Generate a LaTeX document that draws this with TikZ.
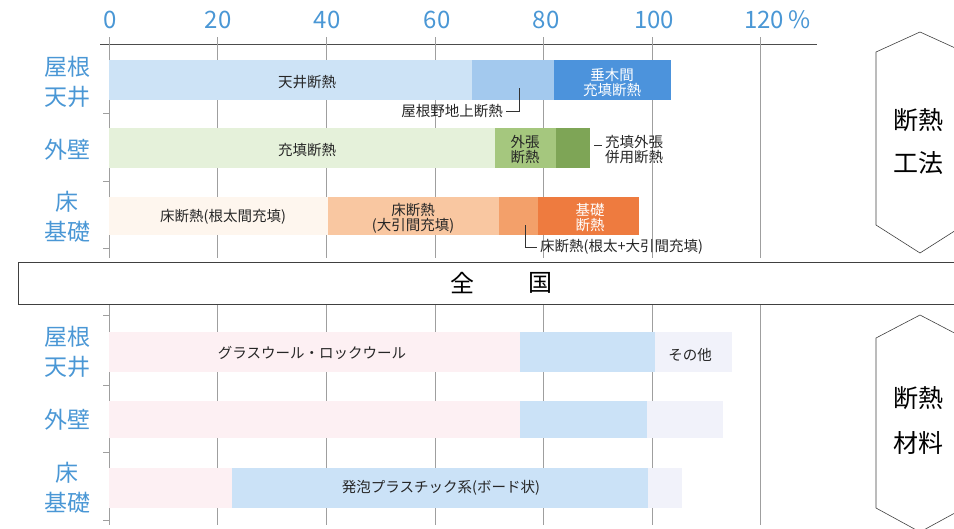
\documentclass[tikz,border=0pt]{standalone}
\usepackage{fontspec}
\setmainfont{Noto Sans CJK JP}
\usetikzlibrary{positioning}

\definecolor{labelblue}{HTML}{4A97D5}
\definecolor{tenjo}{HTML}{CDE3F6}
\definecolor{noji}{HTML}{A3C9EE}
\definecolor{taruki}{HTML}{4C93DC}
\definecolor{juten}{HTML}{E5F1DA}
\definecolor{sotobari}{HTML}{A5C77E}
\definecolor{heiyo}{HTML}{7EA556}
\definecolor{neda}{HTML}{FEF6EE}
\definecolor{obiki}{HTML}{F9C7A1}
\definecolor{yukamix}{HTML}{F3A06A}
\definecolor{kiso}{HTML}{EE7B3F}
\definecolor{wool}{HTML}{FDF0F3}
\definecolor{foam}{HTML}{CBE2F7}
\definecolor{other}{HTML}{F1F2FA}

\tikzset{%
  % Specifications for style of nodes:
        barlabel/.style = {font=\fontsize{14.5}{15}\selectfont, align=center, inner sep=0pt, text=black!85},
      whitelabel/.style = {barlabel, text=white},
     leaderlabel/.style = {barlabel, inner xsep=3pt},
        rowlabel/.style = {font=\fontsize{23}{30}\selectfont, align=center, inner sep=0pt, text=labelblue},
       ticklabel/.style = {font=\fontsize{24}{24}\selectfont, inner sep=0pt, text=labelblue},
       sidelabel/.style = {font=\fontsize{25}{25}\selectfont, inner sep=0pt},
  % Specifications for style of lines:
        gridline/.style = {gray!75, line width=0.6pt},
          leader/.style = {black!80, line width=0.6pt},
         hexagon/.style = {draw=black!75, line width=0.6pt},
}

\begin{document}
\begin{tikzpicture}[x=1pt, y=-1pt]
    \useasboundingbox (0,0) rectangle (954,528);
    \clip (0,0) rectangle (954,528);

    % Draw axes and grid
    \draw[gridline, black!70] (100,44) -- (817,44);
    \foreach \p in {0,20,...,120} {
        \draw[gridline] (109+5.43*\p,37) -- (109+5.43*\p,258);
        \draw[gridline] (109+5.43*\p,305) -- (109+5.43*\p,525);
    }
    \foreach \y in {113,181,248,315,385,452,520}
        \draw[gridline] (103,\y) -- (109,\y);

    % Draw tick labels
    \node (t0)   [ticklabel] at (110,20) {0};
    \node (t20)  [ticklabel] at (218,20) {20};
    \node (t40)  [ticklabel] at (327,20) {40};
    \node (t60)  [ticklabel] at (437,20) {60};
    \node (t80)  [ticklabel] at (546,20) {80};
    \node (t100) [ticklabel] at (654,20) {100};
    \node (t120) [ticklabel, anchor=west] at (744,20) {120\,\%};

    % Draw bars (percent)
    \begin{scope}[shift={(109,0)}, x=5.43pt]
        \fill[tenjo]    (0,60)    rectangle (66.9,100);
        \fill[noji]     (66.9,60) rectangle (82.0,100);
        \fill[taruki]   (82.0,60) rectangle (103.5,100);

        \fill[juten]    (0,128)    rectangle (71.1,168);
        \fill[sotobari] (71.1,128) rectangle (82.3,168);
        \fill[heiyo]    (82.3,128) rectangle (88.6,168);

        \fill[neda]     (0,197)    rectangle (40.4,235);
        \fill[obiki]    (40.4,197) rectangle (71.8,235);
        \fill[yukamix]  (71.8,197) rectangle (79.0,235);
        \fill[kiso]     (79.0,197) rectangle (97.6,235);

        \fill[wool]     (0,332)     rectangle (75.7,372);
        \fill[foam]     (75.7,332)  rectangle (100.6,372);
        \fill[other]    (100.6,332) rectangle (114.7,372);

        \fill[wool]     (0,401)    rectangle (75.7,438);
        \fill[foam]     (75.7,401) rectangle (99.1,438);
        \fill[other]    (99.1,401) rectangle (113.1,438);

        \fill[wool]     (0,468)    rectangle (22.6,508);
        \fill[foam]     (22.6,468) rectangle (99.3,508);
        \fill[other]    (99.3,468) rectangle (105.5,508);
    \end{scope}

    % Draw row labels
    \node (roof1)  [rowlabel] at (67,82)  {屋根\\天井};
    \node (wall1)  [rowlabel] at (67,150) {外壁};
    \node (floor1) [rowlabel] at (67,217) {床\\基礎};
    \node (roof2)  [rowlabel] at (67,352) {屋根\\天井};
    \node (wall2)  [rowlabel] at (67,420) {外壁};
    \node (floor2) [rowlabel] at (67,488) {床\\基礎};

    % Draw bar labels
    \node (tenjolab)  [barlabel]   at (307,82)  {天井断熱};
    \node (tarukilab) [whitelabel] at (612,83)  {垂木間\\充填断熱};
    \node (jutenlab)  [barlabel]   at (307,150) {充填断熱};
    \node (sotolab)   [barlabel]   at (525,150) {外張\\断熱};
    \node (nedalab)   [barlabel]   at (223,217) {床断熱(根太間充填)};
    \node (obikilab)  [barlabel]   at (413,218) {床断熱\\(大引間充填)};
    \node (kisolab)   [whitelabel] at (590,218) {基礎\\断熱};
    \node (woollab)   [barlabel]   at (312,353) {グラスウール・ロックウール};
    \node (otherlab)  [barlabel]   at (690,355) {その他};
    \node (foamlab)   [barlabel]   at (441,488) {発泡プラスチック系(ボード状)};

    % Draw leader labels and lines
    \node (nojilab)   [leaderlabel, anchor=east] at (506,111) {屋根野地上断熱};
    \node (heiyolab)  [leaderlabel, anchor=west] at (602,150) {充填外張\\併用断熱};
    \node (mixlab)    [leaderlabel, anchor=west] at (537,247) {床断熱(根太+大引間充填)};
    \coordinate (nojiend)  at (519,88);
    \coordinate (heiyoend) at (594,145);
    \coordinate (mixend)   at (525,225);
    \draw[leader] (nojilab.east) -| (nojiend);
    \draw[leader] (heiyoend) -- (heiyoend -| heiyolab.west);
    \draw[leader] (mixend) |- (mixlab.west);

    % Draw national band
    \draw[gridline, fill=white, draw=black!75] (18,262) rectangle (970,304);
    \node (zen)   [sidelabel, font=\fontsize{24}{24}\selectfont] at (462,283) {全};
    \node (koku)  [sidelabel, font=\fontsize{24}{24}\selectfont] at (540,283) {国};

    % Draw side hexagons
    \draw[hexagon] (876,52) -- (920,32) -- (964,52) -- (964,225) -- (920,253) -- (876,225) -- cycle;
    \draw[hexagon] (876,338) -- (920,315) -- (964,338) -- (964,508) -- (920,532) -- (876,508) -- cycle;
    \node (kouho1)  [sidelabel] at (918,120) {断熱};
    \node (kouho2)  [sidelabel] at (918,163) {工法};
    \node (zairyo1) [sidelabel] at (918,398) {断熱};
    \node (zairyo2) [sidelabel] at (918,443) {材料};
\end{tikzpicture}
\end{document}
